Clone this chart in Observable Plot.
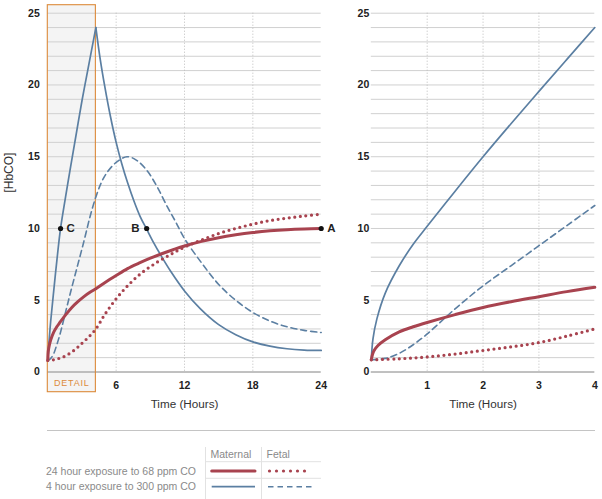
<!DOCTYPE html>
<html><head><meta charset="utf-8">
<script src="https://cdn.jsdelivr.net/npm/d3@7"></script>
<script src="https://cdn.jsdelivr.net/npm/@observablehq/plot@0.6"></script>
<style>
body{margin:0;background:#fff;font-family:"Liberation Sans",Arial,Helvetica,sans-serif;}
#wrap{position:relative;width:602px;height:499px;overflow:hidden;background:#fff;}
#left,#right,#legend{position:absolute;top:0;}
#left{left:0}
#right{left:330px}
#legend{left:0;top:420px}
svg{overflow:visible}
</style></head><body>
<div id="wrap"><div id="left"></div><div id="right"></div><div id="legend"></div></div>
<script>
// ---------- data (hours, [HbCO]) ----------
const yTicks = [0, 5, 10, 15, 20, 25];
const yGrid = [0,1,2,3,4,5,6,7,8,9,10,11,12,13,14,15,16,17,18,19,20,21,22,23,24,25];
const leftXTicks = [6, 12, 18, 24];
const leftXGrid = [6, 12, 18];
const rightXTicks = [1, 2, 3, 4];
const rightXGrid = [1, 2, 3];
const detailSpan = [0, 4.22];

// 24 h exposure to 68 ppm CO — maternal (solid red) and fetal (dotted red), full day
const maternal68 = [[0,0.8],[0.02,1.2],[0.05,1.5],[0.13,1.85],[0.26,2.25],[0.53,2.8],[0.79,3.15],[1.06,3.45],[1.58,4.0],[2.11,4.5],[2.64,4.9],[3.17,5.25],[3.7,5.55],[4.22,5.8],[5,6.22],[6,6.72],[7,7.2],[8,7.58],[9,7.93],[10,8.24],[11,8.52],[12,8.78],[13.5,9.1],[15,9.36],[16.5,9.56],[18,9.72],[19.5,9.84],[21,9.92],[22.5,9.97],[24,10]];
const fetal68 = [[0,0.8],[0.5,0.85],[1,0.95],[1.5,1.1],[2.29,1.5],[3,2.0],[3.6,2.45],[4.22,3.0],[5,4.0],[6,5.1],[7,6.0],[8.15,6.85],[9.5,7.6],[10.8,8.2],[12,8.7],[13.5,9.2],[15,9.65],[16.5,10.0],[18,10.3],[19.5,10.55],[21,10.72],[22.5,10.87],[24,11.0]];
// 4 h exposure to 300 ppm CO — maternal (solid blue: rise, then fall) and fetal (dashed blue)
const maternal300Rise = [[0,0.8],[0.1,2.0],[0.25,3.5],[0.5,5.5],[0.8,7.8],[1.12,10.0],[1.56,12.2],[2,14.3],[2.5,16.6],[3,18.9],[3.5,21.0],[4.22,24]];
const maternal300Fall = [[4.22,24],[4.6,21.8],[5,19.9],[5.5,17.8],[6,16.0],[6.5,14.5],[7,13.2],[7.57,11.9],[8.1,10.85],[8.68,9.95],[9.3,9.0],[9.91,8.15],[10.8,7.0],[12,5.65],[13.4,4.4],[15,3.3],[16.5,2.6],[18,2.1],[19.5,1.8],[21,1.62],[22.5,1.53],[24,1.5]];
const fetal300 = [[0,0.8],[0.26,0.95],[0.53,1.3],[0.79,1.9],[1.06,2.6],[1.6,4.3],[2.11,5.9],[2.64,7.5],[3.17,9.1],[3.7,10.8],[4.22,12.2],[4.7,13.2],[5.2,13.9],[6,14.6],[6.95,15.0],[7.8,14.75],[8.74,14.0],[9.6,12.9],[10.5,11.5],[11.2,10.5],[12,9.3],[13.5,7.6],[15,6.1],[16.5,5.0],[18,4.15],[19.5,3.55],[21,3.15],[22.5,2.9],[24,2.75]];

// detail: first 4 hours
const maternal68Detail = [[0,0.85],[0.02,1.2],[0.05,1.5],[0.12,1.85],[0.25,2.25],[0.5,2.8],[0.75,3.15],[1,3.45],[1.5,4.0],[2,4.5],[2.5,4.9],[3,5.25],[3.5,5.6],[4,5.9]];
const fetal68Detail = [[0,0.85],[0.5,0.92],[1,1.05],[1.5,1.25],[2,1.5],[2.5,1.75],[3,2.05],[3.5,2.5],[4,3.0]];
const maternal300Detail = [[0,0.85],[0.03,2.3],[0.1,3.7],[0.25,5.5],[0.5,7.4],[0.75,8.9],[1,10.15],[1.5,12.6],[2,15.0],[2.5,17.3],[3,19.55],[3.5,21.78],[4,24]];
const fetal300Detail = [[0,0.85],[0.25,0.95],[0.5,1.3],[0.75,1.9],[1,2.65],[1.5,4.4],[2,6.0],[2.5,7.4],[3,8.8],[3.5,10.2],[4,11.6]];

const markerLabels = ["A", "B", "C"];
const markerHours = [24, 8.68, 1.12];
const markerValues = [10, 10, 10];

const legendRows = ["24 hour exposure to 68 ppm CO", "4 hour exposure to 300 ppm CO"];
const legendCols = ["Maternal", "Fetal"];

// ---------- styles ----------
const RED = "#a8434f", BLUE = "#5b7fa2", ORANGE = "#dc8a3a";
const FONT = "Liberation Sans, Arial, Helvetica, sans-serif";
const CURVE = "catmull-rom";
const sMat68 = {stroke: RED, strokeWidth: 3, curve: CURVE, strokeLinecap: "round"};
const sFet68 = {stroke: RED, strokeWidth: 3.2, curve: CURVE, strokeLinecap: "round", strokeDasharray: "0 5.6"};
const sMat300 = {stroke: BLUE, strokeWidth: 1.7, curve: CURVE};
const sFet300 = {stroke: BLUE, strokeWidth: 1.6, curve: CURVE, strokeDasharray: "6 4"};

const line = (data, s) => Plot.line(data, {x: d => d[0], y: d => d[1], ...s});

function grid(xGrid) {
  return [
    Plot.ruleY(yGrid, {stroke: "#d0d0d0", strokeWidth: 1}),
    Plot.ruleX(xGrid, {stroke: "#bdbdbd", strokeDasharray: "1 2"}),
    Plot.ruleY([0], {stroke: "#9a9a9a", strokeWidth: 1.2})
  ];
}
const tickStyle = {tickSize: 0, fontWeight: "bold", fontSize: 10.5, label: null, tickFormat: d => String(d)};

// ---------- left panel ----------
const idx = markerLabels.map((l, i) => i);
const left = Plot.plot({
  width: 340, height: 420,
  marginLeft: 47.3, marginRight: 19.3, marginTop: 12.7, marginBottom: 48.5,
  x: {domain: [0, 24]},
  y: {domain: [0, 25]},
  style: {fontFamily: FONT, background: "transparent", color: "#222"},
  marks: [
    Plot.rect([detailSpan], {x1: d => d[0], x2: d => d[1], fill: "#f4f4f4", insetTop: -8, insetBottom: -20.2}),
    ...grid(leftXGrid),
    Plot.rect([detailSpan], {x1: d => d[0], x2: d => d[1], fill: "none", stroke: ORANGE, strokeWidth: 1.1, insetTop: -8, insetBottom: -20.2}),
    Plot.axisY({ticks: yTicks, tickPadding: 8, ...tickStyle}),
    Plot.axisX({ticks: leftXTicks, tickPadding: 10, ...tickStyle}),
    Plot.text(["Time (Hours)"], {frameAnchor: "bottom", dy: 35.5, fontSize: 11.7, fill: "#333"}),
    Plot.text(["[HbCO]"], {frameAnchor: "left", rotate: -90, dx: -39, fontSize: 12, fill: "#333"}),
    Plot.text(["DETAIL"], {x: () => (detailSpan[0] + detailSpan[1]) / 2, y: () => 0, dy: 11, fontSize: 9, fill: ORANGE}),
    line(fetal300, sFet300),
    line(maternal300Rise, sMat300),
    line(maternal300Fall, sMat300),
    line(fetal68, sFet68),
    line(maternal68, sMat68),
    Plot.dot(idx, {x: i => markerHours[i], y: i => markerValues[i], r: 2.6, fill: "#111"}),
    Plot.text(idx.filter(i => markerLabels[i] !== "B"), {x: i => markerHours[i], y: i => markerValues[i], text: i => markerLabels[i], dx: 6, textAnchor: "start", fontWeight: "bold", fontSize: 11.5, fill: "#222"}),
    Plot.text(idx.filter(i => markerLabels[i] === "B"), {x: i => markerHours[i], y: i => markerValues[i], text: i => markerLabels[i], dx: -7, textAnchor: "end", fontWeight: "bold", fontSize: 11.5, fill: "#222"})
  ]
});
d3.select(left).selectAll("text").filter(function() { return this.textContent === "DETAIL"; }).attr("letter-spacing", "0.8");
document.getElementById("left").appendChild(left);

// ---------- right panel ----------
const right = Plot.plot({
  width: 272, height: 420,
  marginLeft: 40.8, marginRight: 7.7, marginTop: 12.7, marginBottom: 48.5,
  x: {domain: [0, 4]},
  y: {domain: [0, 25]},
  style: {fontFamily: FONT, background: "transparent", color: "#222"},
  marks: [
    ...grid(rightXGrid),
    Plot.axisY({ticks: yTicks, tickPadding: 2, ...tickStyle}),
    Plot.axisX({ticks: rightXTicks, tickPadding: 10, ...tickStyle}),
    Plot.text(["Time (Hours)"], {frameAnchor: "bottom", dy: 35.5, fontSize: 11.7, fill: "#333"}),
    line(fetal300Detail, sFet300),
    line(maternal300Detail, sMat300),
    line(fetal68Detail, sFet68),
    line(maternal68Detail, sMat68)
  ]
});
document.getElementById("right").appendChild(right);

// ---------- legend table ----------
const lg = d3.select("#legend").append("svg").attr("width", 602).attr("height", 79)
  .style("font-family", FONT).style("font-size", "10.5px");
lg.append("line").attr("x1", 47).attr("x2", 595).attr("y1", 10.5).attr("y2", 10.5).attr("stroke", "#c4c4c4");
const colX = [205.5, 261.5];
colX.forEach(x => lg.append("line").attr("x1", x).attr("x2", x).attr("y1", 27).attr("y2", 79).attr("stroke", "#e2e2e2"));
[41.7, 58.3].forEach(y => lg.append("line").attr("x1", 205.5).attr("x2", 321).attr("y1", y).attr("y2", y).attr("stroke", "#e2e2e2"));
legendCols.forEach((c, i) => lg.append("text").attr("x", colX[i] + 5).attr("y", 34).attr("dy", "0.35em").attr("fill", "#8a8a8a").text(c));
const rowY = [51, 66.7];
legendRows.forEach((r, i) => lg.append("text").attr("x", 196).attr("y", rowY[i]).attr("dy", "0.35em").attr("text-anchor", "end").attr("fill", "#8a8a8a").text(r));
const samples = [[sMat68, sFet68], [sMat300, sFet300]];
samples.forEach((pair, i) => pair.forEach((s, j) => {
  const x0 = j === 0 ? 211.7 : 268, x1 = j === 0 ? 255 : 311.5;
  lg.append("line").attr("x1", x0 + (j === 1 && i === 0 ? 1.5 : 0)).attr("x2", x1).attr("y1", rowY[i]).attr("y2", rowY[i])
    .attr("stroke", s.stroke).attr("stroke-width", s.strokeWidth)
    .attr("stroke-linecap", s.strokeLinecap || "butt")
    .attr("stroke-dasharray", s.strokeDasharray ? (i === 0 ? "0 7" : "5.5 4") : null);
}));
</script>
</body></html>
